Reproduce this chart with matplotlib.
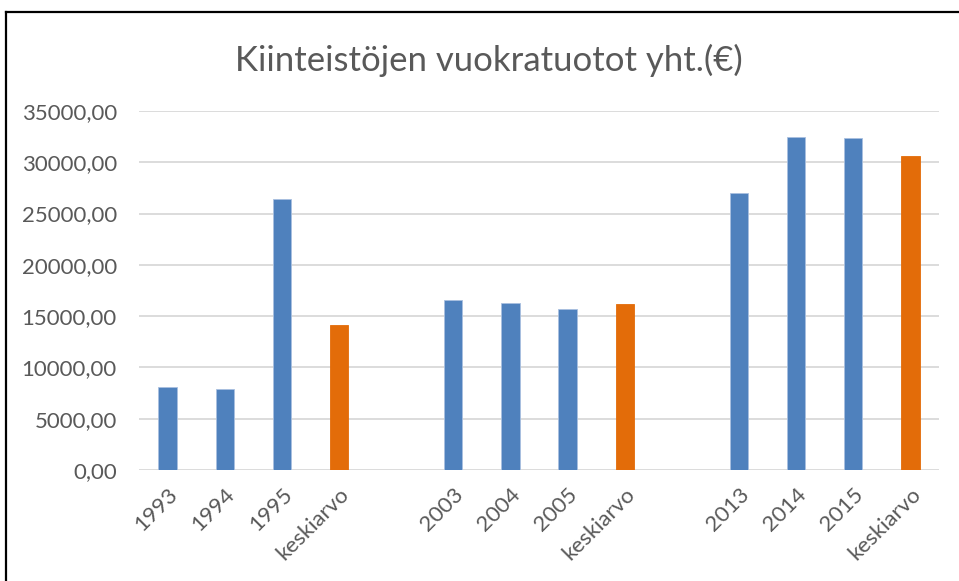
import matplotlib
matplotlib.use("Agg")
import matplotlib.pyplot as plt
from matplotlib.lines import Line2D

labels = ["1993", "1994", "1995", "keskiarvo",
          "2003", "2004", "2005", "keskiarvo",
          "2013", "2014", "2015", "keskiarvo"]
values = [8050, 7900, 26400, 14117,
          16550, 16250, 15700, 16167,
          27050, 32450, 32400, 30633]
is_mean = [False, False, False, True] * 3
slots = [0, 1, 2, 3, 5, 6, 7, 8, 10, 11, 12, 13]

blue = "#4F81BD"
orange = "#E36C09"
text_col = "#595959"

plt.rcParams['font.family'] = ['Lato', 'DejaVu Sans']

fig = plt.figure(figsize=(9.59, 5.81), dpi=100)
ax = fig.add_axes([139/959, 1-470/581, 800/959, 359/581])

colors = [orange if m else blue for m in is_mean]
edges = ["#A9C0E0" if not m else orange for m in is_mean]
ax.bar(slots, values, width=0.32, color=colors, edgecolor=edges, linewidth=0.6, zorder=3)

ax.set_xlim(-0.5, 13.5)
ax.set_ylim(0, 35000)
yt = list(range(0, 35001, 5000))
ax.set_yticks(yt)
ax.set_yticklabels([f"{v},00" for v in yt], fontsize=16, color=text_col)
ax.set_xticks(slots)
ax.set_xticklabels(labels, rotation=45, ha="right", rotation_mode="anchor",
                   fontsize=16, color=text_col)
ax.tick_params(axis="both", length=0)
ax.tick_params(axis="y", pad=16)
ax.tick_params(axis="x", pad=10)
ax.grid(axis="y", color="#D9D9D9", linewidth=1.3, zorder=0)
for s in ax.spines.values():
    s.set_visible(False)

fig.text(489/959, 1-60/581, "Kiinteistöjen vuokratuotot yht.(€)", ha="center", va="center",
         fontsize=25, color=text_col)

# frame lines
fig.add_artist(Line2D([6/959, 6/959], [0, 1-12/581], transform=fig.transFigure, color="black", linewidth=1.6))
fig.add_artist(Line2D([6/959, 1], [1-12/581, 1-12/581], transform=fig.transFigure, color="black", linewidth=1.6))

fig.savefig("out.png", dpi=100)
